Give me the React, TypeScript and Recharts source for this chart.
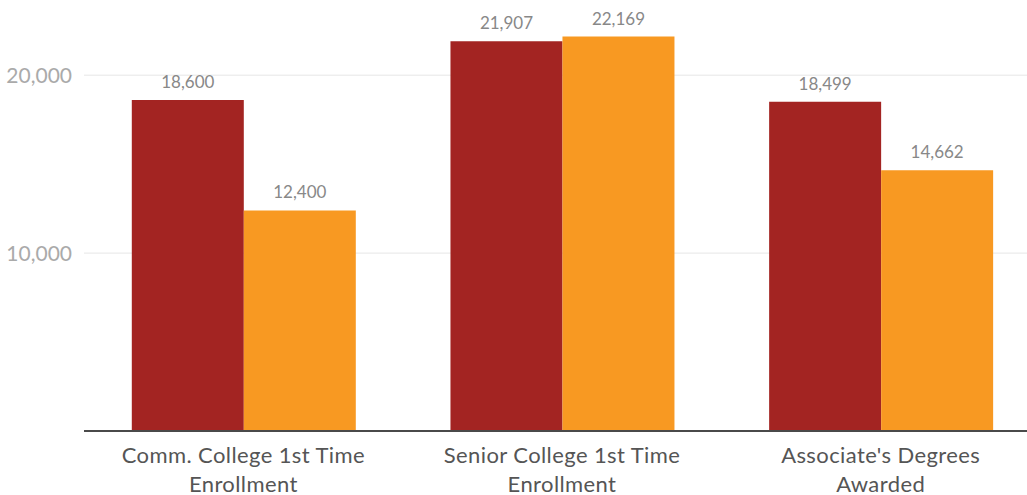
import React from 'react';
import { BarChart, Bar, XAxis, YAxis, CartesianGrid, LabelList } from 'recharts';

const categories = [
  'Comm. College 1st Time Enrollment',
  'Senior College 1st Time Enrollment',
  "Associate's Degrees Awarded",
];
const seriesA = [18600, 21907, 18499];
const seriesB = [12400, 22169, 14662];
const yTicks = [10000, 20000];

const data = categories.map((name, i) => ({ name, a: seriesA[i], b: seriesB[i] }));

const fmt = (v: number) => v.toLocaleString('en-US');

// break before the last word, two lines per category
const CategoryTick = (props: any) => {
  const { x, y, payload } = props;
  const label: string = payload.value;
  const cut = label.lastIndexOf(' ');
  const lines = [label.slice(0, cut), label.slice(cut + 1)];
  return (
    <text x={x} y={y} textAnchor="middle" fill="#555" fontSize={22} fontFamily="Lato" letterSpacing={0.4}>
      {lines.map((l, i) => (
        <tspan key={i} x={x} dy={i === 0 ? 24 : 29}>
          {l}
        </tspan>
      ))}
    </text>
  );
};

export default function App() {
  return (
    <div style={{ position: 'fixed', left: 0, top: 0, width: 1027, height: 495, overflow: 'hidden', background: '#fff' }}>
      <BarChart
        width={1040}
        height={495}
        data={data}
        margin={{ top: 4, right: 0, left: 0, bottom: 0 }}
        barCategoryGap="15%"
        barGap={0}
        style={{ fontFamily: 'Lato' }}
      >
        <CartesianGrid vertical={false} horizontalValues={yTicks} stroke="#e6e6e6" strokeWidth={1} />
        <XAxis
          dataKey="name"
          height={64}
          tick={<CategoryTick />}
          tickLine={false}
          axisLine={{ stroke: '#4a4a4a', strokeWidth: 2 }}
          interval={0}
        />
        <YAxis
          width={84}
          domain={[0, 24000]}
          ticks={yTicks}
          tickFormatter={fmt}
          axisLine={false}
          tickLine={false}
          tickSize={0}
          tickMargin={12}
          tick={{ fill: '#aaa', fontSize: 21, fontFamily: 'Lato' }}
        />
        <Bar dataKey="a" fill="#A32422" isAnimationActive={false}>
          <LabelList dataKey="a" position="top" offset={12} formatter={(v: any) => fmt(Number(v))} fill="#888" fontSize={17} fontFamily="Lato" />
        </Bar>
        <Bar dataKey="b" fill="#F89922" isAnimationActive={false}>
          <LabelList dataKey="b" position="top" offset={12} formatter={(v: any) => fmt(Number(v))} fill="#888" fontSize={17} fontFamily="Lato" />
        </Bar>
      </BarChart>
    </div>
  );
}
